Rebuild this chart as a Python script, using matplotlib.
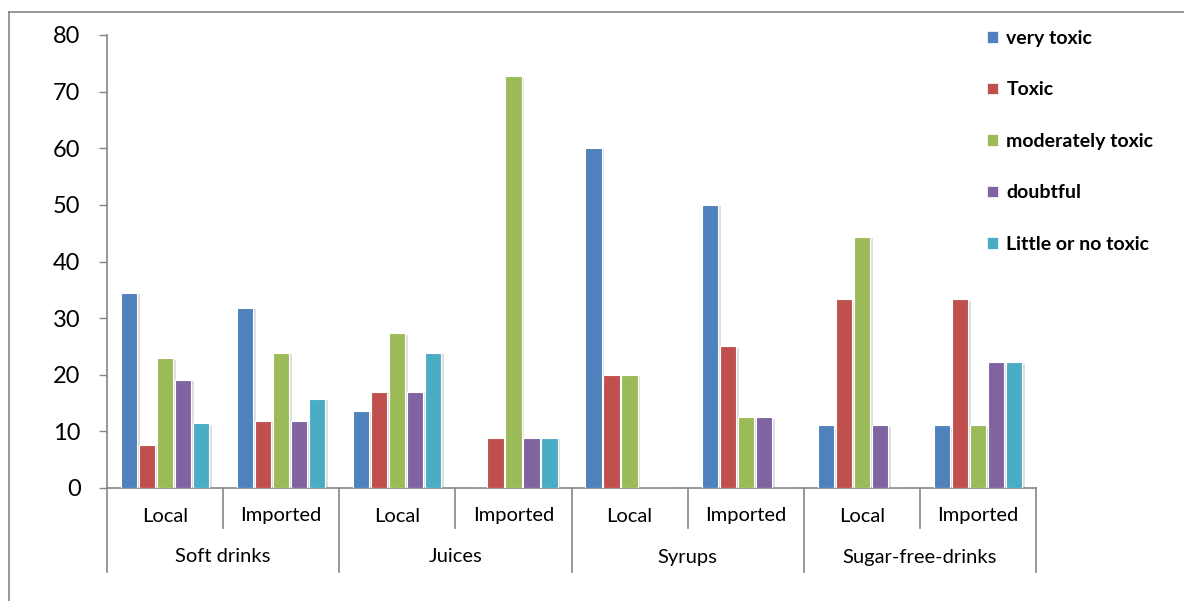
#! /usr/bin/env python3


import numpy as np
import matplotlib.pyplot as plt
import matplotlib.patheffects as pe
from matplotlib.patches import Patch
from matplotlib.lines import Line2D


# Toxicity classes of drink samples, by drink type and origin.
groups = ["Soft drinks", "Juices", "Syrups", "Sugar-free-drinks"]
origins = ["Local", "Imported"]
series = ["very toxic", "Toxic", "moderately toxic", "doubtful", "Little or no toxic"]
colors = ["#4F81BD", "#C0504D", "#9BBB59", "#8064A2", "#4BACC6"]

# One list per class, 8 values: (Local, Imported) for each drink type.
very_toxic = [34.5, 31.8, 13.6, 0, 60.0, 50.0, 11.1, 11.1]
toxic = [7.6, 11.9, 17.0, 8.9, 20.0, 25.0, 33.3, 33.3]
moderately_toxic = [22.9, 23.9, 27.3, 72.7, 20.0, 12.5, 44.4, 11.1]
doubtful = [19.1, 11.9, 17.0, 8.9, 0, 12.5, 11.1, 22.2]
little_or_none = [11.4, 15.8, 23.9, 8.9, 0, 0, 0, 22.2]
values = [very_toxic, toxic, moderately_toxic, doubtful, little_or_none]

plt.rcParams['font.family'] = ['Lato', 'DejaVu Sans']
axis_grey = "#868686"

fig = plt.figure(figsize=(11.84, 6.01), dpi=100)
W, H = 1184, 601
ax = fig.add_axes([107 / W, 1 - 488 / H, (1036 - 107) / W, (488 - 35) / H])

n_cat = len(groups) * len(origins)
x = np.arange(n_cat)
bw = 0.155
shadow = [pe.SimplePatchShadow(offset=(2, -1), shadow_rgbFace="#808080", alpha=0.25),
          pe.Normal()]
for i, (vals, col) in enumerate(zip(values, colors)):
    bars = ax.bar(x + (i - 2) * bw, vals, width=bw * 0.9, color=col,
                  edgecolor="white", linewidth=0.8, zorder=3)
    for b in bars:
        if b.get_height() > 0:
            b.set_path_effects(shadow)

ax.set_xlim(-0.5, n_cat - 0.5)
ax.set_ylim(0, 80)
ax.set_yticks(range(0, 81, 10))
ax.tick_params(axis='y', labelsize=17, length=6, width=1, color=axis_grey, pad=13)
ax.set_xticks([])
for side in ("top", "right"):
    ax.spines[side].set_visible(False)
for side in ("left", "bottom"):
    ax.spines[side].set_color(axis_grey)
    ax.spines[side].set_linewidth(1.2)

# Two-level category axis below the plot.
trans = ax.get_xaxis_transform()
px = 1 / (488 - 35)
for k in range(n_cat + 1):
    xs = k - 0.5
    y_end = -84 * px if k % 2 == 0 else -40 * px
    ax.add_line(Line2D([xs, xs], [0, y_end], transform=trans, color=axis_grey,
                       linewidth=1.2, clip_on=False))
for k in range(n_cat):
    ax.text(k, -28 * px, origins[k % 2], transform=trans, ha="center", va="center",
            fontsize=14.5)
for g, name in enumerate(groups):
    ax.text(2 * g + 0.5, -69 * px, name, transform=trans, ha="center", va="center",
            fontsize=14.5)

# Legend on the right.
handles = [Patch(facecolor=c, edgecolor="white", linewidth=0.5) for c in colors]
leg = fig.legend(handles, series, loc="upper left", bbox_to_anchor=(987 / W, 1 - 30 / H),
                 frameon=False, prop={"weight": "bold", "size": 14},
                 handlelength=0.55, handleheight=0.55, handletextpad=0.45,
                 labelspacing=1.77, borderaxespad=0, borderpad=0)

# Outer chart border.
fig.add_artist(Line2D([9 / W, 9 / W], [0, 1 - 12 / H], transform=fig.transFigure,
                      color=axis_grey, linewidth=1.2))
fig.add_artist(Line2D([9 / W, 1], [1 - 12 / H, 1 - 12 / H], transform=fig.transFigure,
                      color=axis_grey, linewidth=1.2))

fig.savefig("out.png", dpi=100)
